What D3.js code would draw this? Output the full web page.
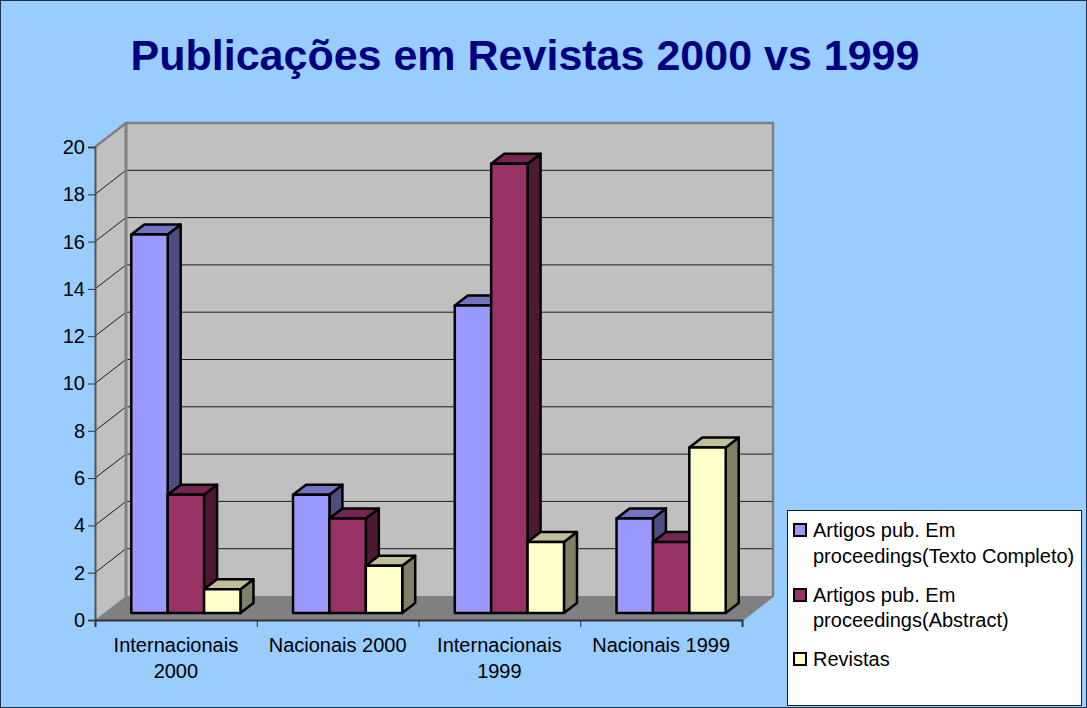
<!DOCTYPE html>
<html>
<head>
<meta charset="utf-8">
<script src="https://cdn.jsdelivr.net/npm/d3@7"></script>
<style>
  html, body { margin: 0; padding: 0; background: #fff; }
  svg { display: block; font-family: "Liberation Sans", Arial, sans-serif; }
</style>
</head>
<body>
<div id="chart"></div>
<script>
const categories = [["Internacionais", "2000"], ["Nacionais 2000"], ["Internacionais", "1999"], ["Nacionais 1999"]];
const seriesNames = ["Completo", "Abstract", "Revistas"];
const textoCompleto = [16, 5, 13, 4];
const abstractPub = [5, 4, 19, 3];
const revistas = [1, 2, 3, 7];
const seriesFront = ["#9999ff", "#993366", "#ffffcc"];
const seriesTop = ["#7373bf", "#732650", "#bfbf99"];
const seriesSide = ["#4d4d80", "#4d1933", "#808066"];
const legendLines = [
  ["Artigos pub. Em", "proceedings(Texto Completo)"],
  ["Artigos pub. Em", "proceedings(Abstract)"],
  ["Revistas"],
];
const yTicks = d3.range(0, 21, 2);

const WIDTH = 1087;
const HEIGHT = 708;
const PLOT = { left: 95, right: 742, top: 147, bottom: 620 };
const DEPTH = { x: 31, y: -24 };
const BAR_OFFSET = { x: 10, y: -7 };
const BAR_DEPTH = { x: 13, y: -10 };
const LABEL_SIZE = 20;

const svg = d3
  .select("#chart")
  .append("svg")
  .attr("width", WIDTH)
  .attr("height", HEIGHT)
  .attr("viewBox", [0, 0, WIDTH, HEIGHT]);

svg
  .append("rect")
  .attr("x", 0.5)
  .attr("y", 0.5)
  .attr("width", WIDTH - 1)
  .attr("height", HEIGHT - 1)
  .attr("fill", "#99ccff")
  .attr("stroke", "#1a3350");

svg
  .append("text")
  .attr("x", 525)
  .attr("y", 70)
  .attr("text-anchor", "middle")
  .attr("font-size", 43)
  .attr("font-weight", "bold")
  .attr("fill", "#000080")
  .text("Publicações em Revistas 2000 vs 1999");

const x = d3
  .scaleBand()
  .domain(d3.range(categories.length))
  .range([PLOT.left, PLOT.right]);
const y = d3.scaleLinear().domain([0, 20]).range([PLOT.bottom, PLOT.top]);
const barWidth = x.bandwidth() * 0.225;
const groupPad = (x.bandwidth() - barWidth * 3) / 2;

const poly = (pts) => pts.map((p) => p.join(",")).join(" ");

// walls and floor
const backLeft = PLOT.left + DEPTH.x;
const backRight = PLOT.right + DEPTH.x;
const backTop = PLOT.top + DEPTH.y;
const backBottom = PLOT.bottom + DEPTH.y;

svg
  .append("polygon")
  .attr("points", poly([[PLOT.left, PLOT.top], [backLeft, backTop], [backLeft, backBottom], [PLOT.left, PLOT.bottom]]))
  .attr("fill", "#c0c0c0");
svg
  .append("rect")
  .attr("x", backLeft)
  .attr("y", backTop)
  .attr("width", backRight - backLeft)
  .attr("height", backBottom - backTop)
  .attr("fill", "#c0c0c0");
svg
  .append("polygon")
  .attr("points", poly([[PLOT.left, PLOT.bottom], [backLeft, backBottom], [backRight, backBottom], [PLOT.right, PLOT.bottom]]))
  .attr("fill", "#808080");

const gGrid = svg.append("g").attr("class", "grid");
yTicks.slice(1, -1).forEach((t) => {
  gGrid
    .append("polyline")
    .attr("points", poly([[PLOT.left, y(t)], [backLeft, y(t) + DEPTH.y], [backRight, y(t) + DEPTH.y]]))
    .attr("fill", "none")
    .attr("stroke", "#1c1c1c");
});

svg
  .append("polyline")
  .attr("points", poly([[PLOT.left, PLOT.top], [backLeft, backTop], [backRight, backTop], [backRight, backBottom], [PLOT.right, PLOT.bottom]]))
  .attr("fill", "none")
  .attr("stroke", "#808080")
  .attr("stroke-width", 2.5);
svg
  .append("line")
  .attr("x1", backLeft)
  .attr("x2", backLeft)
  .attr("y1", backTop)
  .attr("y2", backBottom)
  .attr("stroke", "#808080")
  .attr("stroke-width", 3);

// bars, left to right so later ones cover the sides of earlier ones
const seriesValues = [textoCompleto, abstractPub, revistas];
const gBars = svg.append("g").attr("class", "bars");
categories.forEach((_, c) => {
  seriesNames.forEach((name, s) => {
    const value = seriesValues[s][c];
    const x0 = x(c) + groupPad + s * barWidth + BAR_OFFSET.x;
    const x1 = x0 + barWidth;
    const top = y(value) + BAR_OFFSET.y;
    const bottom = y(0) + BAR_OFFSET.y;
    const g = gBars.append("g").attr("class", "bar-" + name);
    const edge = (sel) => sel.attr("stroke", "#000").attr("stroke-width", 2.5).attr("stroke-linejoin", "round");
    g.append("polygon")
      .attr("points", poly([[x1, top], [x1 + BAR_DEPTH.x, top + BAR_DEPTH.y], [x1 + BAR_DEPTH.x, bottom + BAR_DEPTH.y], [x1, bottom]]))
      .attr("fill", seriesSide[s])
      .call(edge);
    g.append("polygon")
      .attr("points", poly([[x0, top], [x0 + BAR_DEPTH.x, top + BAR_DEPTH.y], [x1 + BAR_DEPTH.x, top + BAR_DEPTH.y], [x1, top]]))
      .attr("fill", seriesTop[s])
      .call(edge);
    g.append("rect")
      .attr("x", x0)
      .attr("y", top)
      .attr("width", barWidth)
      .attr("height", bottom - top)
      .attr("fill", seriesFront[s])
      .call(edge);
  });
});

// axes
const yAxis = svg
  .append("g")
  .attr("transform", `translate(${PLOT.left},0)`)
  .call(d3.axisLeft(y).tickValues(yTicks).tickSize(7).tickPadding(3).tickFormat(d3.format("d")));
yAxis.selectAll(".tick text").attr("font-size", LABEL_SIZE).attr("fill", "#000").attr("font-family", "Liberation Sans");
yAxis.selectAll("path, line").attr("stroke", "#333");
yAxis.select(".domain").attr("stroke-width", 2).attr("stroke", "#555");

const xAxisScale = d3.scaleLinear().domain([0, categories.length]).range([PLOT.left, PLOT.right]);
const xAxis = svg
  .append("g")
  .attr("transform", `translate(0,${PLOT.bottom})`)
  .call(d3.axisBottom(xAxisScale).ticks(categories.length).tickSize(7).tickFormat(""));
xAxis.selectAll("path, line").attr("stroke", "#333");
xAxis.select(".domain").attr("stroke-width", 2).attr("stroke", "#333");

const gLabels = svg.append("g").attr("class", "category-labels");
categories.forEach((lines, c) => {
  lines.forEach((line, i) => {
    gLabels
      .append("text")
      .attr("x", x(c) + x.bandwidth() / 2)
      .attr("y", 652 + i * 26)
      .attr("text-anchor", "middle")
      .attr("font-size", LABEL_SIZE)
      .attr("fill", "#000")
      .text(line);
  });
});

// legend
const gLegend = svg.append("g").attr("class", "legend");
gLegend
  .append("rect")
  .attr("x", 787.5)
  .attr("y", 510.5)
  .attr("width", 294)
  .attr("height", 195)
  .attr("fill", "#fff")
  .attr("stroke", "#1c1c1c");
const legendBaselines = [[537, 563], [602, 627], [666]];
legendLines.forEach((lines, s) => {
  gLegend
    .append("rect")
    .attr("x", 794)
    .attr("y", legendBaselines[s][0] - 13)
    .attr("width", 12)
    .attr("height", 12)
    .attr("fill", seriesFront[s])
    .attr("stroke", "#000")
    .attr("stroke-width", 2);
  lines.forEach((line, i) => {
    gLegend
      .append("text")
      .attr("x", 813)
      .attr("y", legendBaselines[s][i])
      .attr("font-size", LABEL_SIZE)
      .attr("fill", "#000")
      .text(line);
  });
});
</script>
</body>
</html>
